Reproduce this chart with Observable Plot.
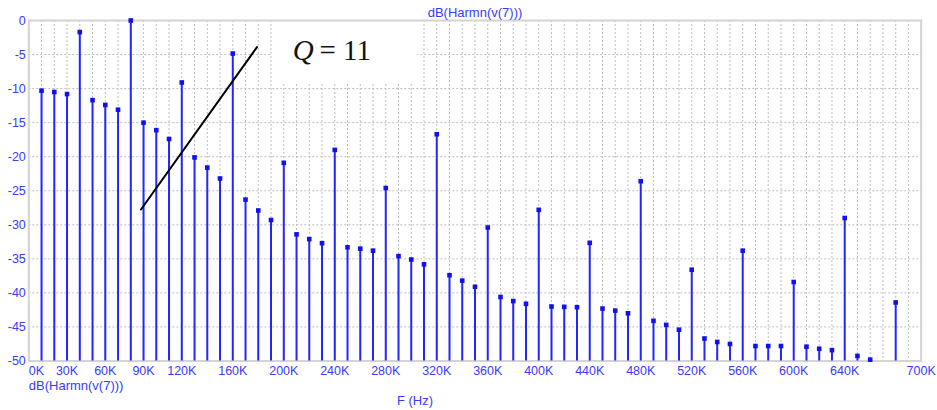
<!DOCTYPE html>
<html>
<head>
<meta charset="utf-8">
<script src="https://cdn.jsdelivr.net/npm/d3@7"></script>
<script src="https://cdn.jsdelivr.net/npm/@observablehq/plot@0.6"></script>
<style>
  html, body { margin: 0; padding: 0; background: #fff; }
  svg { display: block; }
</style>
</head>
<body>
<div id="chart"></div>
<script>
// Harmonic frequencies (kHz) and magnitudes (dB)
const freqKHz = [10,20,30,40,50,60,70,80,90,100,110,120,130,140,150,160,170,180,190,200,
  210,220,230,240,250,260,270,280,290,300,310,320,330,340,350,360,370,380,390,400,
  410,420,430,440,450,460,470,480,490,500,510,520,530,540,550,560,570,580,590,600,
  610,620,630,640,650,660,680];
const dbValues = [-10.3,-10.5,-10.8,-1.7,-11.7,-12.4,-13.1,0,-15.0,-16.1,-17.4,-9.1,-20.1,-21.6,-23.2,-4.85,-26.3,-27.9,-29.3,-20.9,
  -31.4,-32.1,-32.7,-19.0,-33.3,-33.5,-33.8,-24.6,-34.6,-35.1,-35.8,-16.7,-37.4,-38.2,-39.1,-30.4,-40.6,-41.2,-41.6,-27.8,
  -42.0,-42.05,-42.1,-32.65,-42.3,-42.6,-43.0,-23.6,-44.1,-44.7,-45.4,-36.6,-46.7,-47.2,-47.5,-33.8,-47.8,-47.8,-47.8,-38.4,
  -47.9,-48.2,-48.4,-29.0,-49.25,-49.8,-41.4];

// Axis tick labels
const xTickKHz = [30,60,90,120,160,200,240,280,320,360,400,440,480,520,560,600,640,700];
const xFirstTickKHz = [0];
const yTicks = [0,-5,-10,-15,-20,-25,-30,-35,-40,-45,-50];

// Annotation: Q slope line, label and its white backing box
const annotLineKHz = [88, 179];
const annotLineDb = [-27.75, -3.9];
const labelBoxKHz = [191, 305];
const labelBoxDb = [-0.15, -9.3];
const qLabel = "Q";
const qValueLabel = "= 11";
const qLabelPos = {xKHz: 207, db: -4.4};
const qValuePos = {xKHz: 228, db: -4.4};

const titleText = "dB(Harmn(v(7)))";
const xLabelText = "F (Hz)";

const data = freqKHz.map((f, i) => ({f: f * 1000, v: dbValues[i]}));
const annot = annotLineKHz.map((f, i) => ({f: f * 1000, v: annotLineDb[i]}));

const blue = "#3a3aff";
const stemBlue = "#2424ff";

const plot = Plot.plot({
  width: 937,
  height: 410,
  marginLeft: 28.3,
  marginRight: 16.3,
  marginTop: 20,
  marginBottom: 49.5,
  style: {fontFamily: "'Liberation Sans', Arial, sans-serif", background: "#fff"},
  x: {domain: [0, 700000], axis: null},
  y: {domain: [-50, 0], axis: null},
  marks: [
    Plot.gridX(d3.range(0, 700001, 10000), {stroke: "#bdbdbd", strokeOpacity: 1, strokeDasharray: "2,2", strokeWidth: 1}),
    Plot.gridY(yTicks, {stroke: "#bdbdbd", strokeOpacity: 1, strokeDasharray: "2,2", strokeWidth: 1}),
    Plot.rect([0], {x1: labelBoxKHz[0] * 1000, x2: labelBoxKHz[1] * 1000, y1: labelBoxDb[0], y2: labelBoxDb[1], fill: "#fff"}),
    Plot.frame({stroke: "#d4d4d4", strokeWidth: 2}),
    Plot.ruleX(data, {x: "f", y1: -50, y2: "v", stroke: stemBlue, strokeWidth: 2}),
    Plot.dot(data, {x: "f", y: "v", symbol: "square", r: 2.6, fill: "#1010f0", stroke: null}),
    Plot.line(annot, {x: "f", y: "v", stroke: "#000", strokeWidth: 2}),
    Plot.text([qLabel], {x: qLabelPos.xKHz * 1000, y: qLabelPos.db, text: d => d, textAnchor: "start",
      fontFamily: "'Liberation Serif', 'Times New Roman', serif", fontStyle: "italic", fontSize: 29, fill: "#111"}),
    Plot.text([qValueLabel], {x: qValuePos.xKHz * 1000, y: qValuePos.db, text: d => d, textAnchor: "start",
      fontFamily: "'Liberation Serif', 'Times New Roman', serif", fontSize: 29, fill: "#111"}),
    Plot.axisY(yTicks, {tickSize: 0, tickPadding: 3, tickFormat: d => String(d), fill: blue, fontSize: 12.5, label: null}),
    Plot.axisX(xTickKHz.map(d => d * 1000), {tickSize: 0, tickPadding: 5, tickFormat: d => (d / 1000) + "K", fill: blue, fontSize: 12.5, label: null}),
    Plot.axisX(xFirstTickKHz.map(d => d * 1000), {tickSize: 0, tickPadding: 5, tickFormat: d => (d / 1000) + "K", fill: blue, fontSize: 12.5, textAnchor: "start", label: null}),
    Plot.text([titleText], {frameAnchor: "top", lineAnchor: "middle", dy: -8, text: d => d, fill: blue, fontSize: 13}),
    Plot.text([titleText], {frameAnchor: "bottom-left", lineAnchor: "middle", textAnchor: "start", dy: 24.5, text: d => d, fill: blue, fontSize: 13, ariaLabel: "trace-name"}),
    Plot.text([xLabelText], {frameAnchor: "bottom", lineAnchor: "middle", dx: -60, dy: 40, text: d => d, fill: blue, fontSize: 13})
  ]
});

d3.select(plot).selectAll("g[aria-label='trace-name'] text").style("text-decoration", "underline");
document.getElementById("chart").appendChild(plot);
</script>
</body>
</html>
